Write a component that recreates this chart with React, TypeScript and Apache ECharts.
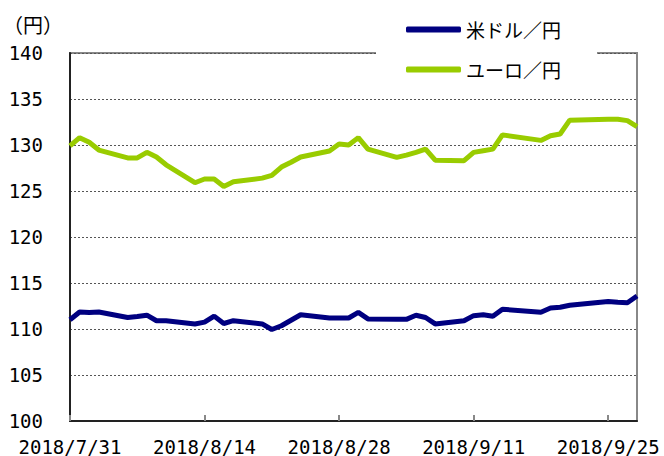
import React, { useEffect, useRef } from "react";
import * as echarts from "echarts";

const START_DATE = "2018-07-31";
const dates = [
  "2018-07-31", "2018-08-01", "2018-08-02", "2018-08-03",
  "2018-08-06", "2018-08-07", "2018-08-08", "2018-08-09", "2018-08-10",
  "2018-08-13", "2018-08-14", "2018-08-15", "2018-08-16", "2018-08-17",
  "2018-08-20", "2018-08-21", "2018-08-22", "2018-08-23", "2018-08-24",
  "2018-08-27", "2018-08-28", "2018-08-29", "2018-08-30", "2018-08-31",
  "2018-09-03", "2018-09-04", "2018-09-05", "2018-09-06", "2018-09-07",
  "2018-09-10", "2018-09-11", "2018-09-12", "2018-09-13", "2018-09-14",
  "2018-09-18", "2018-09-19", "2018-09-20", "2018-09-21",
  "2018-09-25", "2018-09-26", "2018-09-27", "2018-09-28",
];
const usdJpy = [
  111.0, 111.85, 111.8, 111.85,
  111.25, 111.35, 111.5, 110.9, 110.9,
  110.55, 110.75, 111.4, 110.6, 110.9,
  110.55, 109.95, 110.35, 110.95, 111.55,
  111.2, 111.2, 111.2, 111.8, 111.1,
  111.05, 111.05, 111.5, 111.25, 110.55,
  110.9, 111.45, 111.55, 111.38, 112.15,
  111.82, 112.28, 112.37, 112.58,
  112.98, 112.9, 112.86, 113.58,
];
const eurJpy = [
  129.9, 130.8, 130.3, 129.45,
  128.6, 128.6, 129.2, 128.7, 127.85,
  125.9, 126.3, 126.3, 125.5, 126.0,
  126.4, 126.7, 127.6, 128.13, 128.7,
  129.35, 130.1, 130.0, 130.8, 129.55,
  128.65, 128.9, 129.2, 129.55, 128.35,
  128.3, 129.2, 129.38, 129.55, 131.1,
  130.5, 131.0, 131.2, 132.7,
  132.8, 132.8, 132.65, 132.0,
];
const seriesNames = ["米ドル／円", "ユーロ／円"];
const seriesColors = ["#000080", "#99CC00"];
const yTicks = { min: 100, max: 140, interval: 5 };
const xTickIntervalDays = 14;
const unitLabel = "（円）";

const DAY = 86400000;
const startMs = Date.parse(START_DATE + "T00:00:00Z");
const dayOffset = (d: string) => Math.round((Date.parse(d + "T00:00:00Z") - startMs) / DAY);
const lastDay = dayOffset(dates[dates.length - 1]);
const fmtDay = (v: number) => {
  const dt = new Date(startMs + v * DAY);
  return `${dt.getUTCFullYear()}/${dt.getUTCMonth() + 1}/${dt.getUTCDate()}`;
};

export default function App() {
  const ref = useRef<HTMLDivElement>(null);
  useEffect(() => {
    if (!ref.current) return;
    const chart = echarts.init(ref.current, undefined, { renderer: "svg" });
    const axisFont = { fontFamily: "DejaVu Sans Mono", fontSize: 19, color: "#000" };
    chart.setOption({
      animation: false,
      backgroundColor: "#fff",
      grid: {
        left: 70, right: 27, top: 53, bottom: 35,
        show: true, borderColor: "#888", borderWidth: 2, backgroundColor: "transparent",
      },
      legend: {
        orient: "vertical",
        left: 376,
        top: 10,
        padding: [10, 36, 6, 30],
        backgroundColor: "#fff",
        itemWidth: 55,
        itemHeight: 6,
        itemGap: 21,
        icon: "roundRect",
        textStyle: { fontFamily: "Noto Sans CJK JP", fontSize: 19, color: "#000" },
        data: seriesNames,
      },
      graphic: [
        {
          type: "text",
          left: 3,
          top: 14,
          style: { text: unitLabel, fontFamily: "Noto Sans CJK JP", fontSize: 20, fill: "#000" },
        },
      ],
      xAxis: {
        type: "value",
        min: 0,
        max: lastDay,
        interval: xTickIntervalDays,
        axisLine: { show: true, lineStyle: { color: "#222", width: 2 } },
        axisTick: { show: true, inside: true, length: 6, lineStyle: { color: "#888", width: 2 } },
        splitLine: { show: false },
        axisLabel: {
          ...axisFont,
          margin: 16,
          showMaxLabel: false,
          formatter: (v: number) => (v % xTickIntervalDays === 0 ? fmtDay(v) : ""),
        },
      },
      yAxis: {
        type: "value",
        min: yTicks.min,
        max: yTicks.max,
        interval: yTicks.interval,
        axisLine: { show: true, lineStyle: { color: "#222", width: 2 } },
        axisTick: { show: false },
        splitLine: { show: true, lineStyle: { color: "#555", width: 1, type: [2, 2] } },
        axisLabel: { ...axisFont, margin: 27 },
      },
      series: [
        {
          name: seriesNames[0],
          type: "line",
          symbol: "none",
          color: seriesColors[0],
          lineStyle: { width: 5, color: seriesColors[0] },
          data: dates.map((d, i) => [dayOffset(d), usdJpy[i]]),
        },
        {
          name: seriesNames[1],
          type: "line",
          symbol: "none",
          color: seriesColors[1],
          lineStyle: { width: 5, color: seriesColors[1] },
          data: dates.map((d, i) => [dayOffset(d), eurJpy[i]]),
        },
      ],
    });
    return () => chart.dispose();
  }, []);
  return (
    <div
      ref={ref}
      style={{ position: "fixed", left: 0, top: 0, width: 664, height: 456 }}
    />
  );
}
